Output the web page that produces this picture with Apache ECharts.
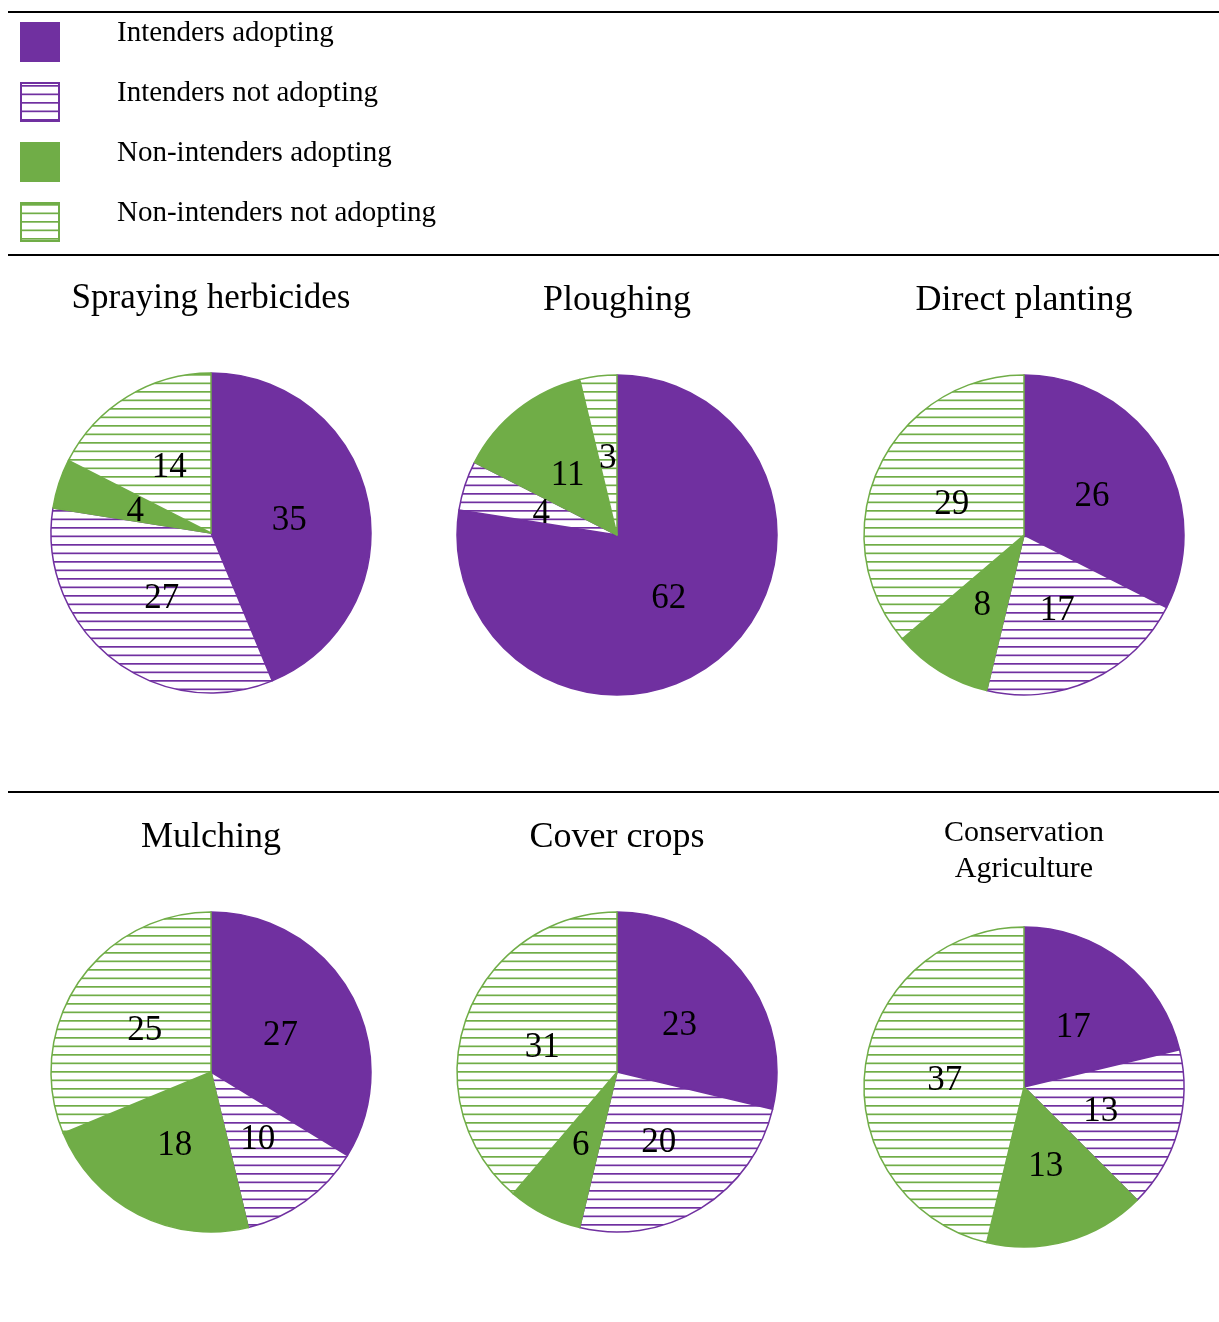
<!DOCTYPE html>
<html>
<head>
<meta charset="utf-8">
<script src="https://cdn.jsdelivr.net/npm/echarts@6/dist/echarts.min.js"></script>
<style>
  html, body { margin: 0; padding: 0; background: #fff; }
  #chart { width: 1219px; height: 1322px; }
</style>
</head>
<body>
<div id="chart"></div>
<script>
// Adoption groups (slice order, clockwise from 12 o'clock)
const categories = [
  'Intenders adopting',
  'Intenders not adopting',
  'Non-intenders adopting',
  'Non-intenders not adopting'
];

// Practices shown, one pie each
const practices = [
  'Spraying herbicides',
  'Ploughing',
  'Direct planting',
  'Mulching',
  'Cover crops',
  'Conservation\nAgriculture'
];

// Respondent counts per group
const sprayingHerbicides = [35, 27, 4, 14];
const ploughing          = [62, 4, 11, 3];
const directPlanting     = [26, 17, 8, 29];
const mulching           = [27, 10, 18, 25];
const coverCrops         = [23, 20, 6, 31];
const conservationAg     = [17, 13, 13, 37];

const seriesValues = [sprayingHerbicides, ploughing, directPlanting, mulching, coverCrops, conservationAg];

const PURPLE = '#7030A0';
const GREEN = '#70AD47';
const FONT = '"Liberation Serif", "Times New Roman", serif';

// Horizontal-line hatch fill
function hatch(color) {
  const c = document.createElement('canvas');
  c.width = 16; c.height = 17;
  const g = c.getContext('2d');
  g.fillStyle = '#fff';
  g.fillRect(0, 0, 16, 17);
  g.fillStyle = color;
  g.fillRect(0, 0, 16, 1.7);
  g.fillRect(0, 8.5, 16, 1.7);
  return { image: c, repeat: 'repeat' };
}

const groupStyles = [
  { color: PURPLE, borderColor: PURPLE },
  { color: hatch(PURPLE), borderColor: PURPLE },
  { color: GREEN, borderColor: GREEN },
  { color: hatch(GREEN), borderColor: GREEN }
];

// Layout of the six pies
const centers = [[211, 533], [617, 535], [1024, 535], [211, 1072], [617, 1072], [1024, 1087]];
const titlePos = [[211, 299], [617, 301], [1024, 301], [211, 838], [617, 838], [1024, 851]];
const titleSize = [35, 36, 36, 36, 36, 30];

// Pull value labels slightly toward the pie centre and nudge them down
function labelNudge(params) {
  const c = centers[params.seriesIndex];
  const r = params.labelRect;
  const lx = r.x + r.width / 2;
  const ly = r.y + r.height / 2;
  return { dx: -(lx - c[0]) * 0.04, dy: -(ly - c[1]) * 0.04 + 3 };
}

const series = seriesValues.map((vals, i) => ({
  type: 'pie',
  name: practices[i],
  center: centers[i],
  radius: 160,
  startAngle: 90,
  clockwise: true,
  avoidLabelOverlap: false,
  silent: true,
  label: {
    show: true,
    position: 'inside',
    formatter: '{c}',
    color: '#000',
    fontSize: 35,
    fontFamily: FONT
  },
  labelLayout: labelNudge,
  labelLine: { show: false },
  itemStyle: { borderWidth: 1.5 },
  emphasis: { disabled: true },
  data: vals.map((v, k) => ({
    name: categories[k],
    value: v,
    itemStyle: groupStyles[k]
  }))
}));

const titleTexts = practices.map((t, i) => {
  const two = t.indexOf('\n') >= 0;
  return {
    type: 'text',
    x: titlePos[i][0],
    y: titlePos[i][1],
    style: {
      text: t,
      fill: '#000',
      font: titleSize[i] + 'px ' + FONT,
      lineHeight: two ? 36 : 40,
      align: 'center',
      verticalAlign: 'middle'
    }
  };
});

// Key: swatch plus name for each group
const legendItems = [];
categories.forEach((name, k) => {
  const st = groupStyles[k];
  legendItems.push({
    type: 'rect',
    shape: { x: 21, y: 23 + 60 * k, width: 38, height: 38 },
    style: { fill: st.color, stroke: st.borderColor, lineWidth: 2 }
  });
  legendItems.push({
    type: 'text',
    x: 117,
    y: 33 + 60 * k,
    style: {
      text: name,
      fill: '#000',
      font: '29px ' + FONT,
      align: 'left',
      verticalAlign: 'middle'
    }
  });
});

const rules = [12, 255, 792].map(y => ({
  type: 'line',
  shape: { x1: 8, y1: y, x2: 1219, y2: y },
  style: { stroke: '#000', lineWidth: 2 }
}));

const chart = echarts.init(document.getElementById('chart'), null, { renderer: 'canvas' });
chart.setOption({
  backgroundColor: '#fff',
  animation: false,
  series: series,
  graphic: rules.concat(legendItems, titleTexts)
});
</script>
</body>
</html>
